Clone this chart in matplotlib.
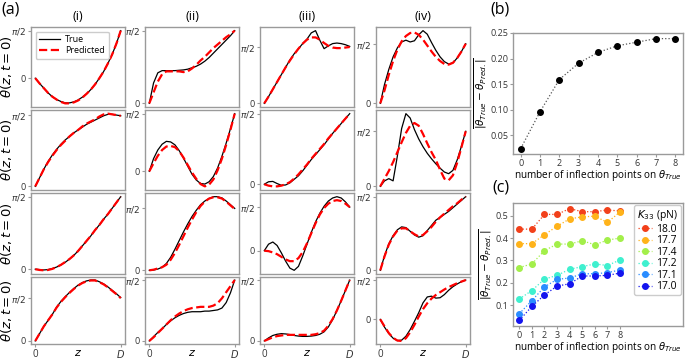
import numpy as np
import matplotlib
matplotlib.use("Agg")
import matplotlib.pyplot as plt

plt.rcParams["font.family"] = ["Open Sans", "DejaVu Sans"]
plt.rcParams["mathtext.fontset"] = "dejavusans"

# ---- panel (a): theta(z, t=0) profiles, in units of pi/2, on z/D grid ----
z = [0.0, 0.05, 0.1, 0.15, 0.2, 0.25, 0.3, 0.35, 0.4, 0.45, 0.5,
     0.55, 0.6, 0.65, 0.7, 0.75, 0.8, 0.85, 0.9, 0.95, 1.0]

# column (i)
true_i = [
    [0, -0.11, -0.21, -0.31, -0.39, -0.45, -0.49, -0.52, -0.52, -0.50, -0.46,
     -0.40, -0.33, -0.24, -0.13, 0.00, 0.14, 0.31, 0.50, 0.73, 1.0],
    [0, 0.12, 0.24, 0.35, 0.44, 0.52, 0.59, 0.65, 0.70, 0.75, 0.79,
     0.83, 0.87, 0.90, 0.93, 0.96, 0.99, 1.01, 1.01, 1.00, 0.99],
    [0, -0.005, -0.01, -0.005, 0.01, 0.03, 0.06, 0.095, 0.14, 0.19, 0.25,
     0.32, 0.39, 0.46, 0.54, 0.61, 0.69, 0.76, 0.84, 0.92, 1.0],
    [0, 0.17, 0.34, 0.48, 0.62, 0.79, 0.92, 1.03, 1.13, 1.22, 1.30,
     1.36, 1.40, 1.42, 1.42, 1.38, 1.33, 1.26, 1.18, 1.10, 1.01],
]
pred_i = [
    [0, -0.11, -0.21, -0.31, -0.39, -0.45, -0.50, -0.53, -0.53, -0.51, -0.47,
     -0.41, -0.33, -0.24, -0.13, 0.00, 0.14, 0.31, 0.50, 0.73, 1.0],
    [0, 0.12, 0.24, 0.34, 0.43, 0.51, 0.58, 0.64, 0.70, 0.75, 0.79,
     0.84, 0.88, 0.91, 0.94, 0.98, 1.01, 1.02, 1.01, 1.00, 0.99],
    [0, -0.01, -0.015, -0.01, 0.005, 0.03, 0.06, 0.10, 0.14, 0.19, 0.25,
     0.32, 0.39, 0.46, 0.54, 0.61, 0.69, 0.76, 0.84, 0.92, 1.0],
    [0, 0.17, 0.34, 0.48, 0.62, 0.78, 0.91, 1.02, 1.12, 1.21, 1.29,
     1.35, 1.39, 1.41, 1.41, 1.37, 1.32, 1.25, 1.17, 1.09, 1.0],
]

# column (ii)
true_ii = [
    [0, 0.28, 0.42, 0.45, 0.45, 0.45, 0.45, 0.455, 0.46, 0.47, 0.49,
     0.51, 0.54, 0.58, 0.63, 0.69, 0.75, 0.81, 0.87, 0.93, 1.0],
    [0, 0.22, 0.37, 0.47, 0.52, 0.51, 0.46, 0.36, 0.23, 0.09, -0.05,
     -0.15, -0.21, -0.22, -0.18, -0.09, 0.06, 0.26, 0.49, 0.74, 1.0],
    [0, 0.005, 0.02, 0.05, 0.11, 0.21, 0.34, 0.48, 0.62, 0.75, 0.87,
     0.97, 1.06, 1.12, 1.16, 1.19, 1.19, 1.17, 1.12, 1.06, 1.0],
    [0, 0.07, 0.14, 0.20, 0.27, 0.33, 0.38, 0.42, 0.45, 0.47, 0.48,
     0.48, 0.48, 0.49, 0.49, 0.50, 0.51, 0.54, 0.63, 0.79, 1.0],
]
pred_ii = [
    [0, 0.15, 0.30, 0.40, 0.44, 0.44, 0.44, 0.44, 0.43, 0.44, 0.48,
     0.53, 0.59, 0.64, 0.70, 0.76, 0.81, 0.86, 0.91, 0.95, 1.0],
    [0, 0.14, 0.27, 0.37, 0.43, 0.44, 0.42, 0.35, 0.24, 0.11, -0.02,
     -0.13, -0.22, -0.26, -0.23, -0.14, 0.02, 0.22, 0.46, 0.72, 1.0],
    [0, 0.01, 0.03, 0.05, 0.09, 0.17, 0.28, 0.41, 0.55, 0.69, 0.82,
     0.94, 1.04, 1.11, 1.16, 1.18, 1.18, 1.16, 1.11, 1.05, 0.99],
    [0, 0.06, 0.13, 0.20, 0.27, 0.34, 0.40, 0.45, 0.49, 0.52, 0.54,
     0.55, 0.56, 0.56, 0.56, 0.58, 0.62, 0.70, 0.80, 0.90, 1.0],
]

# column (iii)
true_iii = [
    [0, 0.12, 0.25, 0.38, 0.51, 0.64, 0.77, 0.88, 0.97, 1.06, 1.14,
     1.25, 1.29, 1.12, 0.97, 1.02, 1.06, 1.07, 1.06, 1.04, 1.01],
    [0, 0.035, 0.04, 0.01, -0.015, -0.01, 0.02, 0.07, 0.12, 0.19, 0.27,
     0.35, 0.42, 0.49, 0.56, 0.64, 0.72, 0.79, 0.86, 0.93, 1.0],
    [0, 0.15, 0.20, 0.12, -0.05, -0.24, -0.40, -0.45, -0.36, -0.12, 0.15,
     0.42, 0.66, 0.86, 1.02, 1.14, 1.21, 1.24, 1.21, 1.12, 1.0],
    [0, 0.05, 0.09, 0.11, 0.12, 0.115, 0.105, 0.09, 0.08, 0.075, 0.075,
     0.08, 0.09, 0.11, 0.15, 0.23, 0.35, 0.50, 0.66, 0.83, 1.0],
]
pred_iii = [
    [0, 0.12, 0.25, 0.38, 0.51, 0.64, 0.76, 0.87, 0.97, 1.06, 1.13,
     1.17, 1.17, 1.13, 1.07, 1.02, 0.99, 0.98, 0.98, 0.99, 1.0],
    [0, -0.02, -0.03, -0.03, -0.02, 0.0, 0.03, 0.08, 0.14, 0.21, 0.28,
     0.36, 0.43, 0.50, 0.57, 0.65, 0.72, 0.79, 0.86, 0.93, 1.0],
    [0, -0.01, -0.04, -0.08, -0.14, -0.20, -0.24, -0.24, -0.17, -0.03, 0.17,
     0.40, 0.63, 0.83, 0.98, 1.08, 1.14, 1.16, 1.14, 1.08, 1.0],
    [0, 0.03, 0.06, 0.08, 0.09, 0.10, 0.10, 0.10, 0.10, 0.10, 0.10,
     0.10, 0.11, 0.13, 0.17, 0.25, 0.36, 0.50, 0.66, 0.83, 1.0],
]

# column (iv)
true_iv = [
    [0, 0.32, 0.57, 0.78, 0.93, 1.03, 1.06, 1.03, 1.05, 1.15, 1.22,
     1.16, 1.02, 0.89, 0.78, 0.70, 0.66, 0.68, 0.76, 0.87, 1.0],
    [0, 0.10, 0.14, 0.10, 0.55, 1.05, 1.32, 1.24, 1.03, 0.86, 0.72,
     0.60, 0.50, 0.41, 0.33, 0.26, 0.23, 0.29, 0.48, 0.73, 1.0],
    [0, 0.20, 0.36, 0.47, 0.55, 0.59, 0.58, 0.53, 0.48, 0.45, 0.47,
     0.54, 0.61, 0.68, 0.72, 0.76, 0.80, 0.85, 0.90, 0.95, 1.0],
    [0, -0.20, -0.36, -0.48, -0.54, -0.53, -0.43, -0.26, -0.05, 0.17, 0.42,
     0.57, 0.59, 0.54, 0.55, 0.63, 0.74, 0.83, 0.90, 0.96, 1.0],
]
pred_iv = [
    [0, 0.22, 0.48, 0.71, 0.90, 1.04, 1.13, 1.18, 1.19, 1.15, 1.07,
     0.97, 0.87, 0.78, 0.71, 0.66, 0.65, 0.68, 0.76, 0.87, 1.0],
    [0, 0.14, 0.28, 0.44, 0.62, 0.80, 0.97, 1.10, 1.15, 1.10, 0.95,
     0.78, 0.62, 0.48, 0.30, 0.14, 0.11, 0.20, 0.43, 0.71, 1.0],
    [0, 0.19, 0.35, 0.46, 0.54, 0.57, 0.57, 0.53, 0.49, 0.46, 0.48,
     0.53, 0.59, 0.66, 0.72, 0.77, 0.82, 0.87, 0.91, 0.96, 1.0],
    [0, -0.18, -0.35, -0.47, -0.54, -0.55, -0.48, -0.33, -0.14, 0.07, 0.26,
     0.41, 0.53, 0.62, 0.69, 0.76, 0.82, 0.87, 0.92, 0.96, 1.0],
]

col_titles = ["(i)", "(ii)", "(iii)", "(iv)"]

# ---- panel (b) ----
n_inflect = [0, 1, 2, 3, 4, 5, 6, 7, 8]
err_b = [0.024, 0.096, 0.159, 0.191, 0.212, 0.225, 0.232, 0.239, 0.239]

# ---- panel (c) ----
k33_labels = ["18.0", "17.7", "17.4", "17.2", "17.1", "17.0"]
err_c = [
    [0.440, 0.440, 0.506, 0.506, 0.532, 0.518, 0.518, 0.526, 0.521],
    [0.375, 0.375, 0.415, 0.453, 0.486, 0.495, 0.498, 0.470, 0.517],
    [0.268, 0.284, 0.344, 0.373, 0.373, 0.388, 0.370, 0.391, 0.400],
    [0.127, 0.165, 0.216, 0.233, 0.260, 0.272, 0.284, 0.277, 0.302],
    [0.061, 0.120, 0.181, 0.215, 0.221, 0.240, 0.240, 0.245, 0.257],
    [0.031, 0.094, 0.145, 0.185, 0.195, 0.230, 0.230, 0.233, 0.243],
]
k33_colors = ["#f2401a", "#ffb31a", "#a3ef4a", "#3ff0cf", "#2a8cff", "#1414ee"]

SPINE = "#9a9a9a"
TICKC = "#333333"

W, H = 685, 360
fig = plt.figure(figsize=(W / 100, H / 100), dpi=100)


def px_axes(l, t, r, b):
    return fig.add_axes([l / W, 1 - b / H, (r - l) / W, (b - t) / H])


def style(ax, size):
    for s in ax.spines.values():
        s.set_color(SPINE)
        s.set_linewidth(1.0)
    ax.tick_params(colors=SPINE, labelcolor=TICKC, length=2.5, width=0.8,
                   labelsize=size, pad=1)


col_left = [31, 145, 260, 376]
row_tb = [(27, 107), (110, 190), (193, 274), (277, 344)]
trues = [true_i, true_ii, true_iii, true_iv]
preds = [pred_i, pred_ii, pred_iii, pred_iv]
half_pi = np.pi / 2

for c in range(4):
    for r in range(4):
        t, b = row_tb[r]
        ax = px_axes(col_left[c], t, col_left[c] + 94, b)
        style(ax, 6.5)
        ax.plot(z, np.array(trues[c][r]) * half_pi, color="black", lw=0.9,
                label="True")
        ax.plot(z, np.array(preds[c][r]) * half_pi, color="red", lw=1.6,
                ls="--", label="Predicted")
        ax.set_yticks([0, half_pi])
        ax.set_yticklabels(["0", r"$\pi/2$"])
        if r == 3:
            ax.set_xticks([0, 1])
            ax.set_xticklabels(["0", "$D$"], fontsize=7)
            ax.set_xlabel("$z$", fontsize=8, labelpad=-9)
        else:
            ax.set_xticks([])
        if c == 0 and r == 0:
            ax.legend(loc="upper left", fontsize=6.5, handlelength=2.3,
                      handletextpad=0.6, borderpad=0.4, labelspacing=0.25,
                      framealpha=1, edgecolor="#cccccc")

for c in range(4):
    fig.text((col_left[c] + 47) / W, 1 - 17 / H, col_titles[c],
             ha="center", va="center", fontsize=9)
for r in range(4):
    t, b = row_tb[r]
    fig.text(7 / W, 1 - (t + b) / 2 / H, r"$\theta(z, t=0)$", rotation=90,
             ha="center", va="center", fontsize=9.5)

fig.text(1 / W, 1 - 1 / H, "(a)", ha="left", va="top", fontsize=11.5)
fig.text(490 / W, 1 - 1 / H, "(b)", ha="left", va="top", fontsize=11.5)
fig.text(492 / W, 1 - 179 / H, "(c)", ha="left", va="top", fontsize=11.5)

ylab = r"$\overline{|\theta_{True} - \theta_{Pred.}|}$"
xlab = r"number of inflection points on $\theta_{True}$"

# (b)
axb = px_axes(513, 33, 683, 154)
style(axb, 6.5)
axb.plot(n_inflect, err_b, ls=":", color="#555555", lw=0.9, marker="o",
         markersize=4, markerfacecolor="black", markeredgecolor="black")
axb.set_xticks(n_inflect)
axb.set_yticks([0.05, 0.10, 0.15, 0.20, 0.25])
axb.set_xlabel(xlab, fontsize=7.2, labelpad=0)
axb.set_ylabel(ylab, fontsize=7.5, labelpad=1)

# (c)
axc = px_axes(513, 203, 683, 326)
style(axc, 6.5)
for vals, lab, col in zip(err_c, k33_labels, k33_colors):
    axc.plot(n_inflect, vals, ls=":", color=col, lw=0.9, marker="o",
             markersize=4, label=lab)
axc.set_xlim(-0.5, 13)
axc.set_xticks(n_inflect)
axc.set_yticks([0.1, 0.2, 0.3, 0.4, 0.5])
axc.set_xlabel(xlab, fontsize=7.2, labelpad=0)
axc.set_ylabel(ylab, fontsize=7.5, labelpad=1)
axc.legend(title=r"$K_{33}$ (pN)", loc="upper right", fontsize=7.5,
           title_fontsize=7.5, handlelength=1.4, handletextpad=0.4,
           labelspacing=0.05, borderpad=0.3, borderaxespad=0.2,
           framealpha=1, edgecolor="#cccccc")

fig.savefig("out.png", dpi=100)
